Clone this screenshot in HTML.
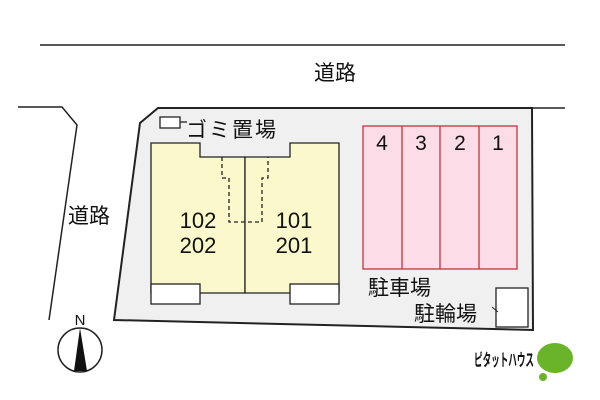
<!DOCTYPE html><html><head><meta charset="utf-8"><style>body{margin:0;background:#fff}svg{display:block}text{font-family:"Liberation Sans","Noto Sans CJK JP",sans-serif;fill:#111}</style></head><body>
<svg width="600" height="400" viewBox="0 0 600 400">
<line x1="40" y1="45" x2="565" y2="45" stroke="#222" stroke-width="1.5"/>
<text x="335" y="80" font-size="21" text-anchor="middle">道路</text>
<polyline points="18,107 62,107 77,125 49,320" fill="none" stroke="#222" stroke-width="1.5"/>
<line x1="532" y1="108" x2="565" y2="108" stroke="#222" stroke-width="1.5"/>
<text x="68" y="223" font-size="21">道路</text>
<polygon points="158,108 532,108 533,330 114,320 140,123" fill="#f0f0f0" stroke="#222" stroke-width="2"/>
<rect x="160" y="117" width="20" height="11" fill="#fff" stroke="#222" stroke-width="1.3"/>
<line x1="180" y1="122" x2="187" y2="122" stroke="#222" stroke-width="1.3"/>
<text x="186" y="137" font-size="21" letter-spacing="2">ゴミ置場</text>
<path d="M151,143H200V157H245V293H151Z" fill="#fbf8cc" stroke="#222" stroke-width="1.3"/>
<path d="M245,157H290V143H339V293H245Z" fill="#fbf8cc" stroke="#222" stroke-width="1.3"/>
<rect x="151" y="284" width="49" height="20" fill="#fff" stroke="#222" stroke-width="1.3"/>
<rect x="290" y="284" width="49" height="20" fill="#fff" stroke="#222" stroke-width="1.3"/>
<polyline points="222,157 222,178 229,178 229,222 262,222 262,178 268,178 268,157" fill="none" stroke="#222" stroke-width="1.3" stroke-dasharray="4,3"/>
<text x="198" y="228" font-size="22" text-anchor="middle">102</text>
<text x="198" y="253" font-size="22" text-anchor="middle">202</text>
<text x="294" y="228" font-size="22" text-anchor="middle">101</text>
<text x="294" y="253" font-size="22" text-anchor="middle">201</text>
<rect x="363" y="126" width="154" height="143" fill="#fcdce6" stroke="#c8323c" stroke-width="1.3"/>
<g stroke="#c8323c" stroke-width="1.3"><line x1="402" y1="126" x2="402" y2="269"/><line x1="440" y1="126" x2="440" y2="269"/><line x1="479" y1="126" x2="479" y2="269"/></g>
<text x="382" y="150" font-size="21" text-anchor="middle">4</text>
<text x="421" y="150" font-size="21" text-anchor="middle">3</text>
<text x="460" y="150" font-size="21" text-anchor="middle">2</text>
<text x="498" y="150" font-size="21" text-anchor="middle">1</text>
<text x="368" y="295" font-size="21">駐車場</text>
<text x="414" y="321" font-size="21">駐輪場</text>
<rect x="496" y="288" width="32" height="39" fill="#fff" stroke="#222" stroke-width="1.3"/>
<line x1="492" y1="307" x2="498" y2="312" stroke="#222" stroke-width="1"/>
<text x="80" y="325" font-size="15" text-anchor="middle">N</text>
<circle cx="80" cy="350" r="22" fill="#fff" stroke="#222" stroke-width="1.5"/>
<polygon points="80,328 74,371 87,371" fill="#111"/>
<text x="474" y="366" font-size="17" font-weight="bold" textLength="60" lengthAdjust="spacingAndGlyphs">ピタットハウス</text>
<ellipse cx="555" cy="358" rx="18" ry="15" fill="#6ab42a"/>
<circle cx="543" cy="377" r="4" fill="#6ab42a"/>
</svg></body></html>
